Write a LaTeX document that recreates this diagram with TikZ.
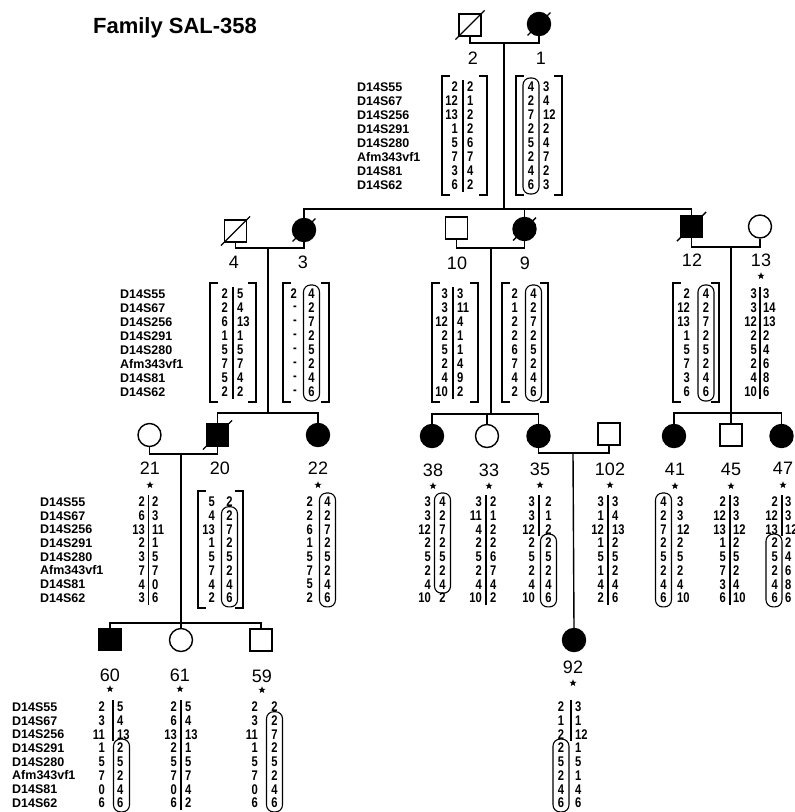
\documentclass[tikz,border=0pt]{standalone}
\usepackage{fontspec}
\setsansfont{Liberation Sans}
\newfontfamily\hapfont[FakeStretch=0.8]{Liberation Sans}
\usepackage{tikz}
\usetikzlibrary{shapes.geometric}
\tikzset{
    pedline/.style  = {line width = 1.4pt},
    male/.style     = {draw, line width = 1.4pt, minimum size = 22pt, inner sep = 0pt, fill = white},
    female/.style   = {circle, draw, line width = 1.4pt, minimum size = 23pt, inner sep = 0pt, fill = white},
    affected/.style = {fill = black},
    title/.style    = {font = \sffamily\bfseries\fontsize{22}{22}\selectfont},
    idlabel/.style  = {font = \sffamily\fontsize{18}{18}\selectfont, inner sep = 0pt},
    typed/.style    = {star, star points = 5, star point ratio = 2.4, minimum size = 7.5pt, inner sep = 0pt, fill = black},
    locus/.style    = {font = \sffamily\bfseries\fontsize{12.5}{12.5}\selectfont, anchor = west, inner sep = 0pt},
    allele/.style   = {font = \hapfont\bfseries\fontsize{14}{14}\selectfont, inner sep = 0pt},
    hapframe/.style = {line width = 1.2pt},
    hapline/.style  = {line width = 1.1pt},
    hapbox/.style   = {draw, line width = 1.1pt, rounded corners = 7pt}
}
\newcommand{\deceased}[1]{\draw[pedline, shorten <=-4pt, shorten >=-4pt] (#1.south west) -- (#1.north east);}
\newcommand{\loci}[3]{%
    \foreach \m [count=\i] in {D14S55,D14S67,D14S256,D14S291,D14S280,Afm343vf1,D14S81,D14S62}
        \node[locus] (#1\i) at (#2,{#3+(\i-1)*\rowgap}) {\m};}
\newcommand{\hapcol}[5]{%
    \foreach \v [count=\i] in {#5}
        \node[allele, anchor=#4] (#1\i) at (#2,{#3+(\i-1)*\rowgap}) {\v};}
\newcommand{\hapsplit}[4]{\draw[hapline] (#1,{#2+(#3-1)*\rowgap-7}) -- (#1,{#2+(#4-1)*\rowgap+7});}
\newcommand{\hapring}[4]{\draw[hapbox] ({#1-8},{#2+(#3-1)*\rowgap-9}) rectangle ({#1+8},{#2+(#4-1)*\rowgap+9});}
\newcommand{\hapbrackets}[3]{%
    \draw[hapframe] ({#1+8},{#3-11}) -- (#1,{#3-11}) -- (#1,{#3+7*\rowgap+10}) -- ({#1+8},{#3+7*\rowgap+10});
    \draw[hapframe] ({#2-8},{#3-11}) -- (#2,{#3-11}) -- (#2,{#3+7*\rowgap+10}) -- ({#2-8},{#3+7*\rowgap+10});}

\begin{document}
\begin{tikzpicture}[x=1pt, y=-1pt]
    \useasboundingbox (0,0) rectangle (795,812);
    \node[title] (fam) at (175,28) {Family SAL-358};

    % generation I
    \def\rowgap{14}
    \node[male] (p2) at (470,25) {};
    \node[female, affected] (p1) at (539,24) {};
    \deceased{p2} \deceased{p1}
    \coordinate (m1) at (504,43);
    \coordinate (s1) at (504,209);
    \draw[pedline] (p2.south) |- (m1) -| (p1.south);
    \draw[pedline] (m1) -- (s1);
    \node[idlabel] (l2) at (473,58) {2};
    \node[idlabel] (l1) at (541,58) {1};
    \loci{la}{357}{87}
    \hapcol{a2l}{458}{87}{east}{2,12,13,1,5,7,3,6}
    \hapcol{a2r}{467}{87}{west}{2,1,2,2,6,7,4,2}
    \hapsplit{463}{87}{1}{8}
    \hapbrackets{442}{487}{87}
    \hapcol{a1l}{531}{87}{center}{4,2,7,2,5,2,4,6}
    \hapcol{a1r}{543}{87}{west}{3,4,12,2,4,7,2,3}
    \hapring{531}{87}{1}{8}
    \hapbrackets{516}{562}{87}

    % generation II
    \node[male] (p4) at (235.5,231) {};
    \node[female, affected] (p3) at (304,230) {};
    \node[male] (p10) at (456.5,228) {};
    \node[female, affected] (p9) at (524.5,229) {};
    \node[male, affected] (p12) at (691.5,226.5) {};
    \node[female] (p13) at (760,226.5) {};
    \deceased{p4} \deceased{p3} \deceased{p9} \deceased{p12}
    \draw[pedline] (p3.north) |- (s1) -| (p12.north);
    \draw[pedline] (p9.north |- s1) -- (p9.north);
    \coordinate (m2) at (268,248);
    \coordinate (m3) at (491,248);
    \coordinate (m4) at (731,247);
    \draw[pedline] (p4.south) |- (m2) -| (p3.south);
    \draw[pedline] (p10.south) |- (m3) -| (p9.south);
    \draw[pedline] (p12.south) |- (m4) -| (p13.south);
    \node[idlabel] (l4) at (234,262) {4};
    \node[idlabel] (l3) at (303,262) {3};
    \node[idlabel] (l10) at (457,263) {10};
    \node[idlabel] (l9) at (525,263) {9};
    \node[idlabel] (l12) at (692,260) {12};
    \node[idlabel] (l13) at (761,260) {13};
    \node[typed] (t13) at (761,276) {};
    \loci{lb}{120}{294}
    \hapcol{a4l}{228}{294}{east}{2,2,6,1,5,7,5,2}
    \hapcol{a4r}{237}{294}{west}{5,4,13,1,5,7,4,2}
    \hapsplit{233}{294}{1}{8}
    \hapbrackets{210}{256}{294}
    \hapcol{a3l}{297}{294}{east}{2,-,-,-,-,-,-,-}
    \hapcol{a3r}{311.5}{294}{center}{4,2,7,2,5,2,4,6}
    \hapring{311.5}{294}{1}{8}
    \hapbrackets{283}{329}{294}
    \hapcol{a10l}{448}{294}{east}{3,3,12,2,5,2,4,10}
    \hapcol{a10r}{457}{294}{west}{3,11,4,1,1,4,9,2}
    \hapsplit{453}{294}{1}{8}
    \hapbrackets{432}{478}{294}
    \hapcol{a9l}{518}{294}{east}{2,1,2,2,6,7,4,2}
    \hapcol{a9r}{533.5}{294}{center}{4,2,7,2,5,2,4,6}
    \hapring{533.5}{294}{1}{8}
    \hapbrackets{502}{548}{294}
    \hapcol{a12l}{690}{294}{east}{2,12,13,1,5,7,3,6}
    \hapcol{a12r}{706}{294}{center}{4,2,7,2,5,2,4,6}
    \hapring{706}{294}{1}{8}
    \hapbrackets{673}{719}{294}
    \hapcol{a13l}{757}{294}{east}{3,3,12,2,5,2,4,10}
    \hapcol{a13r}{763}{294}{west}{3,14,13,2,4,6,8,6}
    \hapsplit{760}{294}{1}{8}

    % generation III
    \def\rowgap{13.7}
    \coordinate (s2) at (268,413);
    \coordinate (s3) at (491,414);
    \coordinate (s4) at (731,413);
    \draw[pedline] (m2) -- (s2);
    \draw[pedline] (m3) -- (s3);
    \draw[pedline] (m4) -- (s4);
    \node[female] (p21) at (149.5,435) {};
    \node[male, affected] (p20) at (217.5,435) {};
    \node[female, affected] (p22) at (318,435) {};
    \node[female, affected] (p38) at (432,436) {};
    \node[female] (p33) at (487,436) {};
    \node[female, affected] (p35) at (538.5,436) {};
    \node[male] (p102) at (609,434) {};
    \node[female, affected] (p41) at (674,436) {};
    \node[male] (p45) at (731,435) {};
    \node[female, affected] (p47) at (781.5,436) {};
    \deceased{p20}
    \draw[pedline] (p20.north) |- (s2) -| (p22.north);
    \draw[pedline] (p38.north) |- (s3) -| (p35.north);
    \draw[pedline] (p33.north |- s3) -- (p33.north);
    \draw[pedline] (p41.north) |- (s4) -| (p47.north);
    \draw[pedline] (s4) -- (p45.north);
    \coordinate (m5) at (181,454);
    \coordinate (m6) at (573,453);
    \draw[pedline] (p21.south) |- (m5) -| (p20.south);
    \draw[pedline] (p35.south) |- (m6) -| (p102.south);
    \node[idlabel] (l21) at (150,468) {21};
    \node[idlabel] (l20) at (220,468) {20};
    \node[idlabel] (l22) at (318,468) {22};
    \node[idlabel] (l38) at (433,470) {38};
    \node[idlabel] (l33) at (489,470) {33};
    \node[idlabel] (l35) at (540,469) {35};
    \node[idlabel] (l102) at (610,469) {102};
    \node[idlabel] (l41) at (675,469) {41};
    \node[idlabel] (l45) at (731,469) {45};
    \node[idlabel] (l47) at (783,468) {47};
    \node[typed] (t21) at (150,485) {};
    \node[typed] (t22) at (318,485) {};
    \node[typed] (t38) at (433,486) {};
    \node[typed] (t33) at (489,486) {};
    \node[typed] (t35) at (540,485) {};
    \node[typed] (t102) at (610,485) {};
    \node[typed] (t41) at (675,486) {};
    \node[typed] (t45) at (731,486) {};
    \node[typed] (t47) at (783,485) {};
    \loci{lc}{40}{502}
    \hapcol{a21l}{145}{502}{east}{2,6,13,2,3,7,4,3}
    \hapcol{a21r}{152}{502}{west}{2,3,11,1,5,7,0,6}
    \hapsplit{148.5}{502}{1}{8}
    \hapcol{a20l}{215}{502}{east}{5,4,13,1,5,7,4,2}
    \hapcol{a20r}{229.5}{502}{center}{2,2,7,2,5,2,4,6}
    \hapring{229.5}{502}{2}{8}
    \hapbrackets{198}{243}{502}
    \hapcol{a22l}{313}{502}{east}{2,2,6,1,5,7,5,2}
    \hapcol{a22r}{327.5}{502}{center}{4,2,7,2,5,2,4,6}
    \hapring{327.5}{502}{1}{8}
    \hapcol{a38l}{431}{502}{east}{3,3,12,2,5,2,4,10}
    \hapcol{a38r}{442.5}{502}{center}{4,2,7,2,5,2,4,2}
    \hapring{442.5}{502}{1}{7}
    \hapcol{a33l}{482}{502}{east}{3,11,4,2,5,2,4,10}
    \hapcol{a33r}{490}{502}{west}{2,1,2,2,6,7,4,2}
    \hapsplit{486}{502}{1}{8}
    \hapcol{a35l}{535}{502}{east}{3,3,12,2,5,2,4,10}
    \hapcol{a35r}{548.5}{502}{center}{2,1,2,2,5,2,4,6}
    \hapsplit{539}{502}{1}{3}
    \hapring{548.5}{502}{4}{8}
    \hapcol{a102l}{604}{502}{east}{3,1,12,1,5,1,4,2}
    \hapcol{a102r}{612}{502}{west}{3,4,13,2,5,2,4,6}
    \hapsplit{608}{502}{1}{8}
    \hapcol{a41l}{663.5}{502}{center}{4,2,7,2,5,2,4,6}
    \hapcol{a41r}{677}{502}{west}{3,3,12,2,5,2,4,10}
    \hapring{663.5}{502}{1}{8}
    \hapcol{a45l}{726}{502}{east}{2,12,13,1,5,7,3,6}
    \hapcol{a45r}{733}{502}{west}{3,3,12,2,5,2,4,10}
    \hapsplit{730}{502}{1}{8}
    \hapcol{a47l}{778}{502}{east}{2,12,13,2,5,2,4,6}
    \hapcol{a47r}{785}{502}{west}{3,3,12,2,4,6,8,6}
    \hapsplit{782}{502}{1}{3}
    \hapring{774}{502}{4}{8}

    % generation IV
    \coordinate (s5) at (181,623);
    \draw[pedline] (m5) -- (s5);
    \node[male, affected] (p60) at (110,639.5) {};
    \node[female] (p61) at (181,640) {};
    \node[male] (p59) at (261,640) {};
    \node[female, affected] (p92) at (574,640) {};
    \draw[pedline] (p60.north) |- (s5) -| (p59.north);
    \draw[pedline] (s5) -- (p61.north);
    \draw[pedline] (m6) -- (p92.north);
    \node[idlabel] (l60) at (110,675) {60};
    \node[idlabel] (l61) at (180,675) {61};
    \node[idlabel] (l59) at (262,676) {59};
    \node[idlabel] (l92) at (573,667) {92};
    \node[typed] (t60) at (110,689) {};
    \node[typed] (t61) at (180,689) {};
    \node[typed] (t59) at (262,690) {};
    \node[typed] (t92) at (573,683) {};
    \loci{ld}{12}{707}
    \hapcol{a60l}{105}{707}{east}{2,3,11,1,5,7,0,6}
    \hapcol{a60r}{117}{707}{west}{5,4,13,2,5,2,4,6}
    \hapsplit{113}{707}{1}{3}
    \hapring{121.5}{707}{4}{8}
    \hapcol{a61l}{177}{707}{east}{2,6,13,2,5,7,0,6}
    \hapcol{a61r}{185}{707}{west}{5,4,13,1,5,7,4,2}
    \hapsplit{181}{707}{1}{8}
    \hapcol{a59l}{258}{707}{east}{2,3,11,1,5,7,0,6}
    \hapcol{a59r}{274.5}{707}{center}{2,2,7,2,5,2,4,6}
    \hapring{274.5}{707}{2}{8}
    \hapcol{a92l}{561}{707}{center}{2,1,2,2,5,2,4,6}
    \hapcol{a92r}{575}{707}{west}{3,1,12,1,5,1,4,6}
    \hapsplit{571}{707}{1}{3}
    \hapring{561}{707}{4}{8}
\end{tikzpicture}
\end{document}
